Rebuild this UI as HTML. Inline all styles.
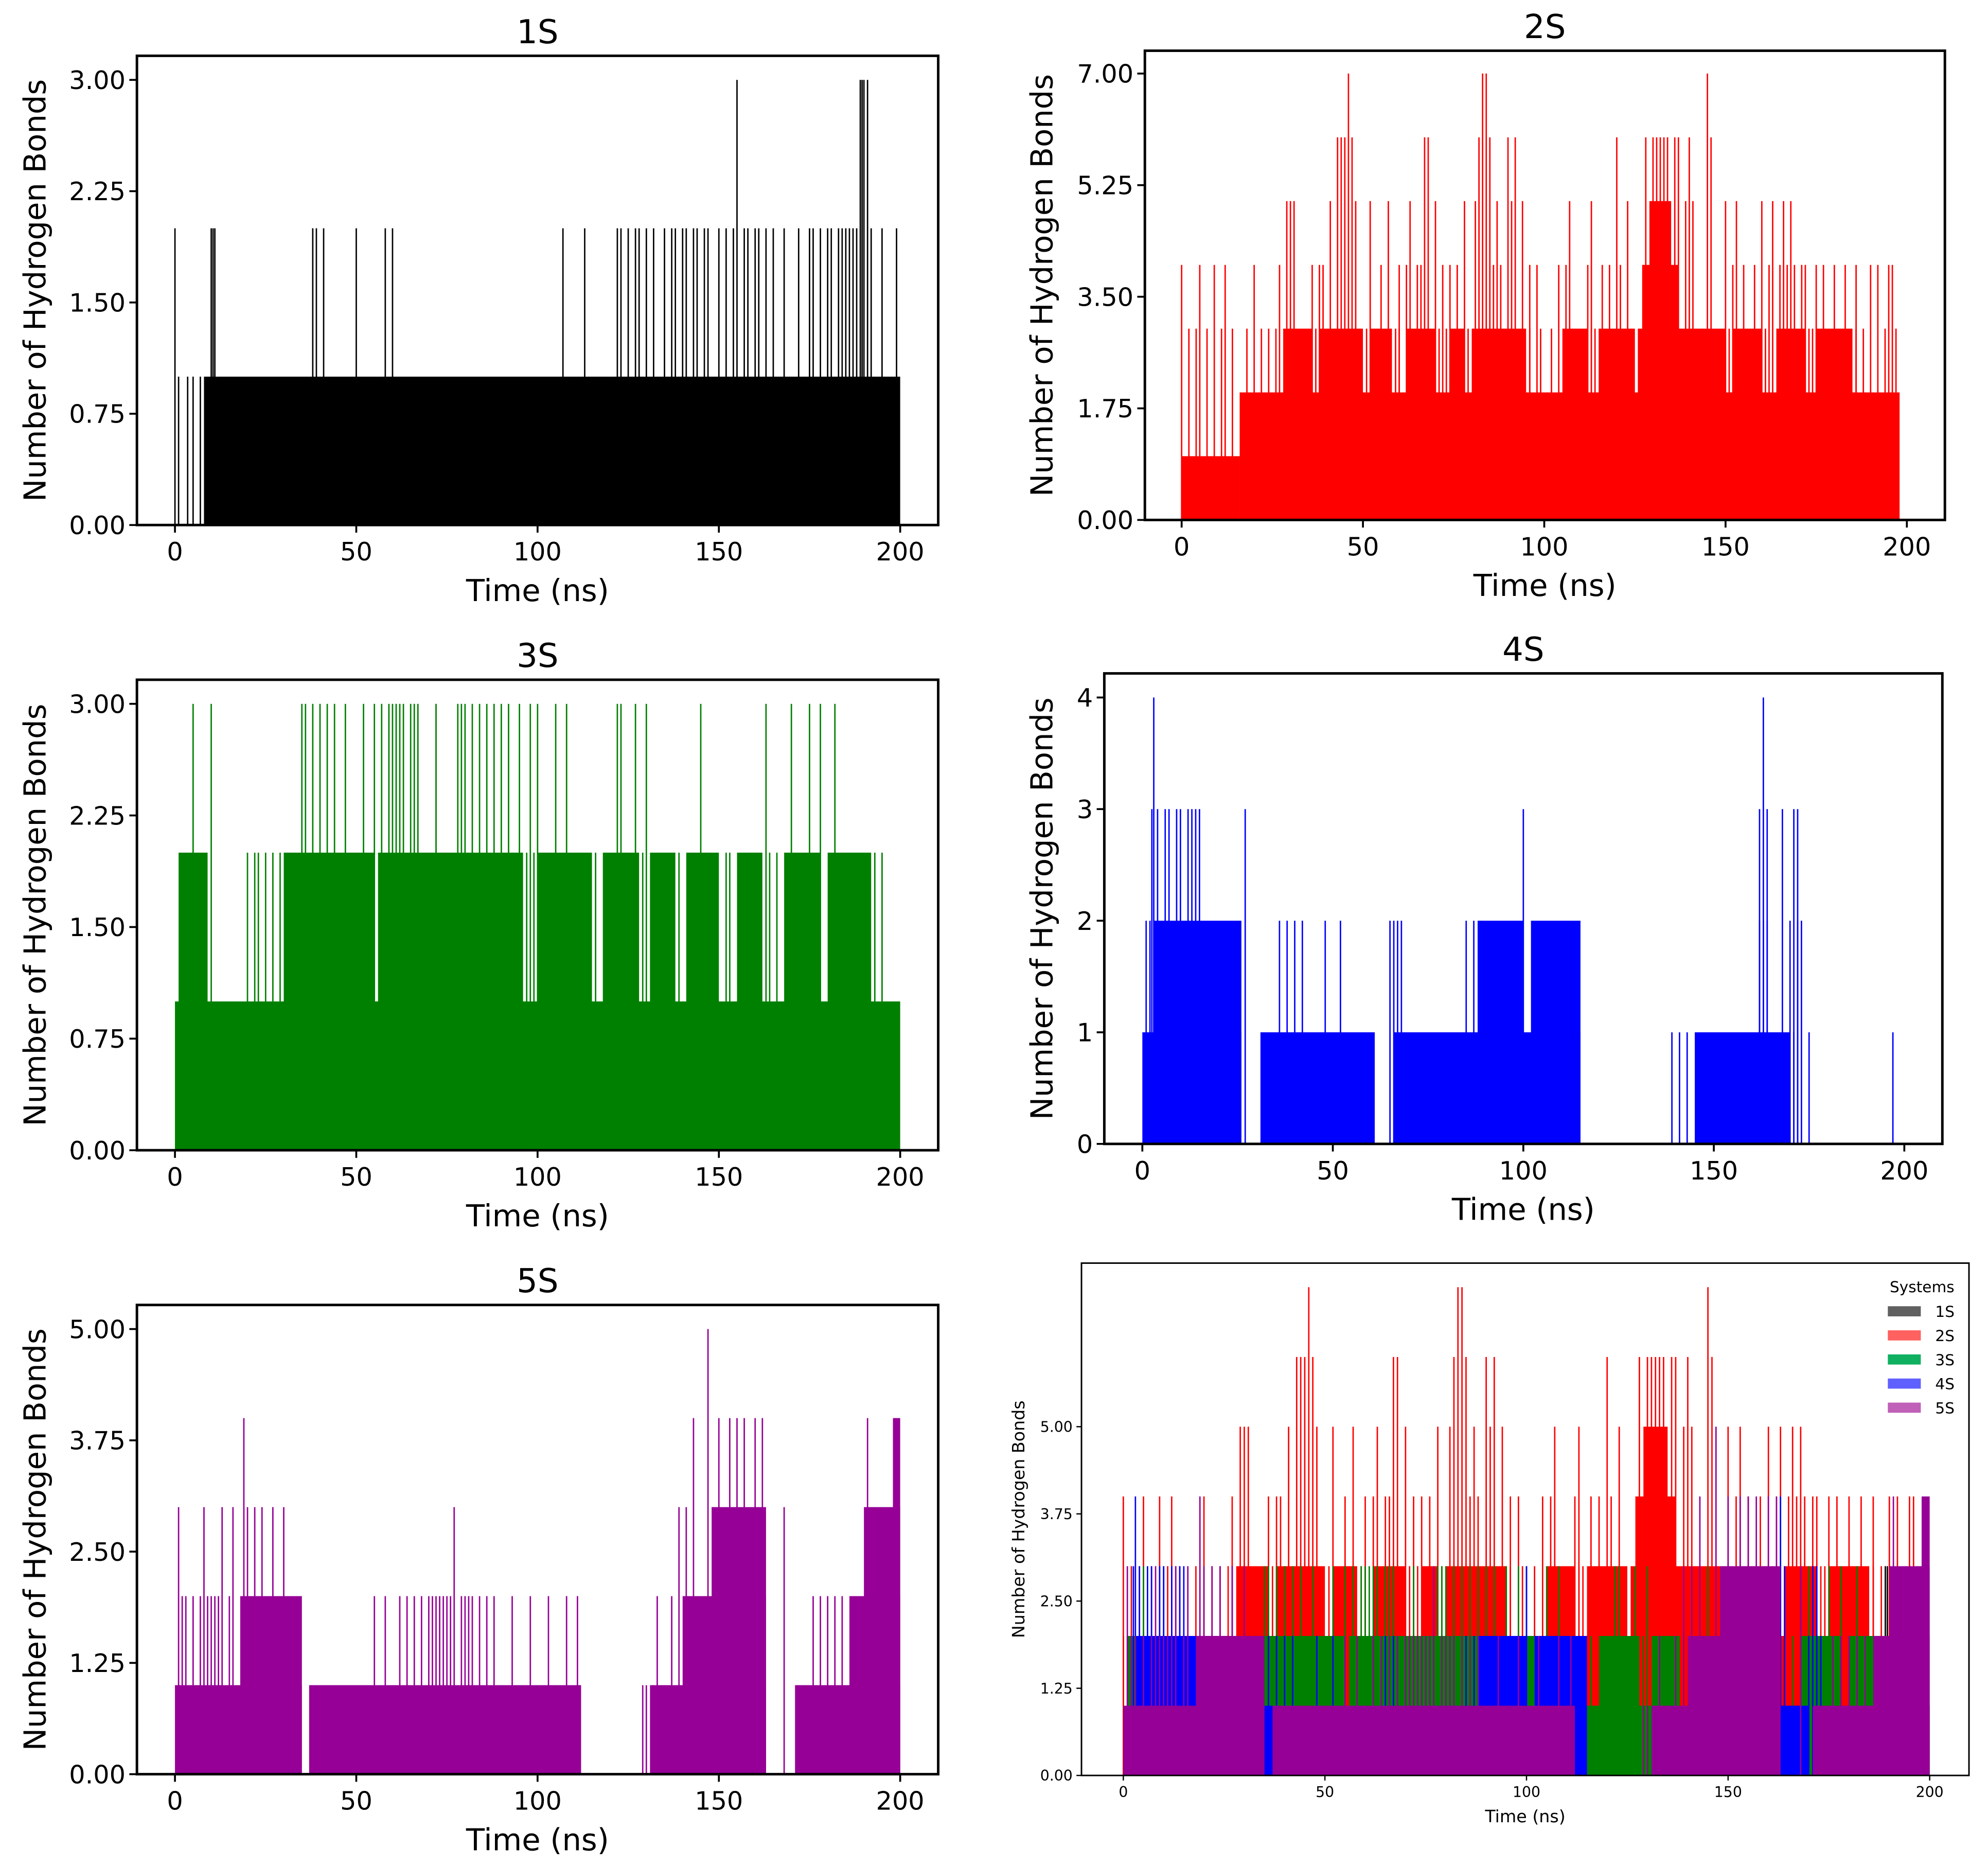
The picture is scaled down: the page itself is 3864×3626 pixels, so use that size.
<!DOCTYPE html>
<html><head><meta charset="utf-8"><style>
html,body{margin:0;padding:0;background:#fff}
svg{display:block}
text{font-family:"DejaVu Sans","Liberation Sans",sans-serif;fill:#000}
</style></head><body>
<svg id="fig" width="3864" height="3626" viewBox="0 0 1568 1471.4" preserveAspectRatio="none" xmlns="http://www.w3.org/2000/svg"></svg>
<script>
// ---- 1S data ----
const s1BlockS=[8], s1BlockE=[200], s1BlockV=[1];
const s1Levels=[1,2,3];
const s1SpikeTimes=[[1,3.5,5,7],[0,10,10.5,11,38,39,41,50,58,60,107,113,122,123,125,127,128,130,132,135,137,138,140,141,143,144,146,147,150,152,154,157,158,160,161,163,165,168,172,175,176,178,180,181,183,184,185,186,187,188,192,195,199],[155,189,189.5,190,191]];
// ---- 2S data ----
const s2BlockS=[0,16,28,38,52,62,74,80,105,115,126,152,164,175,127,129];
const s2BlockE=[16,198,36,50,58,70,78,95,112,125,150,160,172,185,137,135];
const s2BlockV=[1,2,3,3,3,3,3,3,3,3,3,3,3,3,4,5];
const s2Levels=[3,4,5,6,7];
const s2SpikeTimes=[
[2,4,7,11,14,18,22,24,26,37,51,59,60,71,73,79,96,99,102,113,114,126,151,161,173,174,186,188,194,197],
[0,5,9,12,20,27,36,38,39,55,60,62,65,66,72,74,76,86,88,96,98,104,106,112,116,118,121,152,155,158,162,165,167,169,171,172,175,177,180,183,186,190,192,195,196],
[29,30,31,41,48,52,57,63,70,78,81,87,91,94,107,113,123,139,141,150,153,160,163,166,168],
[43,44,45,47,67,68,82,85,90,92,120,128,130,131,132,133,134,136,137,140,146],
[46,83,84,145]];
// ---- 3S data ----
const s3BlockS=[0,1,30,56,100,118,131,141,155,168,180];
const s3BlockE=[200,9,55,96,115,128,138,150,162,178,192];
const s3BlockV=[1,2,2,2,2,2,2,2,2,2,2];
const s3Levels=[2,3];
const s3SpikeTimes=[
[20,22,23,25,27,29,97,99,116,129,139,152,153,164,166,193,195],
[5,10,35,36,38,40,42,44,47,52,55,57,59,60,61,62,63,65,66,67,72,78,79,80,82,84,86,88,90,92,95,98,100,105,108,122,123,127,130,145,163,170,175,178,182]];
// ---- 4S data ----
const s4BlockS=[0,3,31,66,88,102,145];
const s4BlockE=[26,26,61,115,100,115,170];
const s4BlockV=[1,2,1,1,2,2,1];
const s4Levels=[1,2,3,4];
const s4SpikeTimes=[
[139,141,143,157,171,175,197],
[1,2,36,38,40,42,48,52,65,66,67,68,85,87,89,162,163,164,170,172,173],
[2.5,4,6,7,9,10,12,13,14,15,27,100,162,164,168,171,172],
[3,163]];
// ---- 5S data ----
const s5BlockS=[0,18,37,131,140,148,171,186,190,198];
const s5BlockE=[35,35,112,163,163,163,200,200,200,200];
const s5BlockV=[1,2,1,1,2,3,1,2,3,4];
const s5Levels=[1,2,3,4,5];
const s5SpikeTimes=[
[129,130,132,134,172],
[2,3,5,7,9,10,11,12,15,55,58,62,64,66,68,70,71,72,73,74,75,76,79,80,81,82,84,86,88,93,98,103,108,111,133,137,176,178,180,182,184],
[1,8,13,16,20,22,24,27,30,77,139,141,168,195],
[19,143,150,153,155,157,160,162,191],
[147]];
const xTicks=[0,50,100,150,200];
const yTicks1=[0,0.75,1.5,2.25,3];
const yTicks2=[0,1.75,3.5,5.25,7];
const yTicks4=[0,1,2,3,4];
const yTicks5=[0,1.25,2.5,3.75,5];
const legendLabels=["1S","2S","3S","4S","5S"];
const legendColors=["#606060","#ff6060","#10b060","#6060ff","#c060b8"];

const NS="http://www.w3.org/2000/svg";
const fig=document.getElementById('fig');
function mk(tag,attrs,parent){const e=document.createElementNS(NS,tag);for(const k in attrs)e.setAttribute(k,attrs[k]);(parent||fig).appendChild(e);return e;}

const S1={bs:s1BlockS,be:s1BlockE,bv:s1BlockV,lv:s1Levels,st:s1SpikeTimes,c:"#000000"};
const S2={bs:s2BlockS,be:s2BlockE,bv:s2BlockV,lv:s2Levels,st:s2SpikeTimes,c:"#ff0000"};
const S3={bs:s3BlockS,be:s3BlockE,bv:s3BlockV,lv:s3Levels,st:s3SpikeTimes,c:"#008000"};
const S4={bs:s4BlockS,be:s4BlockE,bv:s4BlockV,lv:s4Levels,st:s4SpikeTimes,c:"#0000ff"};
const S5={bs:s5BlockS,be:s5BlockE,bv:s5BlockV,lv:s5Levels,st:s5SpikeTimes,c:"#960096"};

function panel(cfg){
  const g=mk('g',{});
  
  
  const xf=t=>cfg.x0+(cfg.x200-cfg.x0)*t/200;
  const yf=v=>cfg.y0-v*cfg.ppu;
  cfg.series.forEach((s,si)=>{
    const sg=mk('g',{},g);
    
    
    for(let i=0;i<s.bs.length;i++){
      const r=mk('rect',{x:xf(s.bs[i]),y:yf(s.bv[i]),width:xf(s.be[i])-xf(s.bs[i]),height:yf(0)-yf(s.bv[i]),fill:s.c},sg);
      
      
    }
    for(let k=0;k<s.lv.length;k++){
      const v=s.lv[k];
      s.st[k].forEach(t=>{
        const l=mk('line',{x1:xf(t),x2:xf(t),y1:yf(0),y2:yf(v),stroke:s.c,'stroke-width':1.1},sg);
        
        
      });
    }
  });
  const fr=mk('rect',{x:cfg.L,y:cfg.T,width:cfg.R-cfg.L,height:cfg.B-cfg.T,fill:'none',stroke:'#000','stroke-width':cfg.small?1.2:2},g);
  
  
  const fs=cfg.small?11.5:20;
  xTicks.forEach(t=>{
    mk('line',{x1:xf(t),x2:xf(t),y1:cfg.B,y2:cfg.B+(cfg.small?4:6),stroke:'#000','stroke-width':cfg.small?1:1.5},g);
    const tx=mk('text',{x:xf(t),y:cfg.B+(cfg.small?17:28),'font-size':fs,'text-anchor':'middle'},g);
    tx.textContent=t;
    
    
  });
  cfg.yt.forEach(v=>{
    mk('line',{x1:cfg.L,x2:cfg.L-(cfg.small?4:6),y1:yf(v),y2:yf(v),stroke:'#000','stroke-width':cfg.small?1:1.5},g);
    const tx=mk('text',{x:cfg.L-(cfg.small?7:9),y:yf(v)+fs*0.36,'font-size':fs,'text-anchor':'end'},g);
    tx.textContent=cfg.dec?v.toFixed(2):String(v);
    
    
  });
  const lfs=cfg.small?13.5:24;
  const xl=mk('text',{x:(cfg.L+cfg.R)/2,y:cfg.B+(cfg.small?37:60),'font-size':lfs,'text-anchor':'middle'},g);
  xl.textContent='Time (ns)';
  
  
  const cy=(cfg.T+cfg.B)/2;
  const yl=mk('text',{x:cfg.ylx,y:cy,'font-size':lfs,'text-anchor':'middle',transform:`rotate(-90 ${cfg.ylx} ${cy})`},g);
  yl.textContent='Number of Hydrogen Bonds';
  
  
  if(cfg.title){
    const t=mk('text',{x:(cfg.L+cfg.R)/2,y:cfg.T-10,'font-size':26,'text-anchor':'middle'},g);
    t.textContent=cfg.title;
    
    
  }
  return g;
}

panel({name:'panel-1s',title:'1S',L:108,R:740,T:44,B:414,x0:138,x200:710,y0:414,ppu:351/3,yt:yTicks1,dec:true,ylx:36,series:[S1]});
panel({name:'panel-2s',title:'2S',L:903,R:1534,T:40,B:410,x0:932,x200:1504,y0:410,ppu:352/7,yt:yTicks2,dec:true,ylx:830,series:[S2]});
panel({name:'panel-3s',title:'3S',L:108,R:740,T:536,B:907,x0:138,x200:710,y0:907,ppu:352/3,yt:yTicks1,dec:true,ylx:36,series:[S3]});
panel({name:'panel-4s',title:'4S',L:871,R:1532,T:531,B:902,x0:901,x200:1502,y0:902,ppu:352/4,yt:yTicks4,dec:false,ylx:830,series:[S4]});
panel({name:'panel-5s',title:'5S',L:108,R:740,T:1029,B:1399,x0:138,x200:710,y0:1399,ppu:351/5,yt:yTicks5,dec:true,ylx:36,series:[S5]});
panel({name:'panel-combined',small:true,L:853,R:1553,T:996,B:1400,x0:886,x200:1522,y0:1400,ppu:55,yt:yTicks5,dec:true,ylx:808,series:[S1,S2,S3,S4,S5]});

const lg=mk('g',{});


const lt=mk('text',{x:1516,y:1019,'font-size':12,'text-anchor':'middle'},lg);
lt.textContent='Systems';


legendLabels.forEach((lab,i)=>{
  const y=1034+i*19;
  const p=mk('rect',{x:1489,y:y-4,width:26,height:8,fill:legendColors[i]},lg);
  
  
  const t=mk('text',{x:1534,y:y+4.5,'font-size':12,'text-anchor':'middle'},lg);
  t.textContent=lab;
  
  
});
</script>
</body></html>
